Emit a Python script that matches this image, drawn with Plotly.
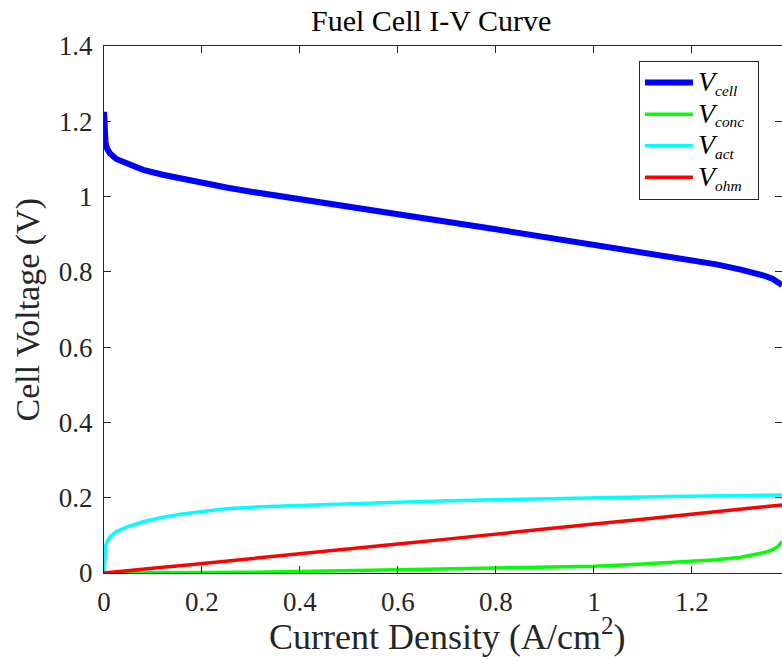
import plotly.graph_objects as go

# Current density (A/cm^2)
current_density = [0, 0.001, 0.003, 0.006, 0.012, 0.025, 0.05, 0.08, 0.12, 0.16, 0.2, 0.25,
                   0.3, 0.4, 0.5, 0.6, 0.7, 0.8, 0.9, 1.0, 1.1, 1.15, 1.2, 1.25, 1.3, 1.33, 1.35,
                   1.365, 1.375, 1.384]

v_cell = [1.225, 1.17, 1.145, 1.128, 1.115, 1.100, 1.085, 1.071, 1.058, 1.047, 1.037, 1.024,
          1.013, 0.992, 0.973, 0.953, 0.933, 0.913, 0.893, 0.873, 0.853, 0.843, 0.832, 0.820,
          0.806, 0.797, 0.789, 0.781, 0.774, 0.765]

v_conc = [0, 0, 0, 0, 0, 0, 0, 0.0003, 0.0006, 0.0008, 0.001, 0.0015,
          0.002, 0.004, 0.006, 0.008, 0.010, 0.012, 0.015, 0.018, 0.024, 0.027, 0.030, 0.035,
          0.042, 0.049, 0.055, 0.062, 0.070, 0.083]

v_act = [0.0, 0.05, 0.07, 0.083, 0.096, 0.110, 0.124, 0.136, 0.148, 0.157, 0.164, 0.171,
         0.175, 0.180, 0.184, 0.188, 0.192, 0.195, 0.198, 0.200, 0.202, 0.203, 0.204, 0.205,
         0.206, 0.206, 0.207, 0.207, 0.207, 0.207]

v_ohm = [0, 0.0001, 0.0004, 0.0007, 0.0015, 0.003, 0.006, 0.010, 0.015, 0.020, 0.025, 0.031,
         0.038, 0.051, 0.064, 0.077, 0.090, 0.104, 0.117, 0.130, 0.143, 0.150, 0.157, 0.163,
         0.170, 0.174, 0.176, 0.178, 0.180, 0.181]

x_ticks = [0, 0.2, 0.4, 0.6, 0.8, 1.0, 1.2]
x_tick_labels = ["0", "0.2", "0.4", "0.6", "0.8", "1", "1.2"]
y_ticks = [0, 0.2, 0.4, 0.6, 0.8, 1.0, 1.2, 1.4]
y_tick_labels = ["0", "0.2", "0.4", "0.6", "0.8", "1", "1.2", "1.4"]

series_names = ["cell", "conc", "act", "ohm"]

FONT = "Liberation Serif"
AX = "#262626"


def legend_label(sub):
    return ("<span style='font-size:28px'><i>V</i></span><sub><i>" + sub + "</i></sub>"
            + "&nbsp;" * (5 - len(sub)))


fig = go.Figure()
fig.add_trace(go.Scatter(x=current_density, y=v_cell, mode="lines",
                         line=dict(color="#0000ff", width=6),
                         name=legend_label(series_names[0])))
fig.add_trace(go.Scatter(x=current_density, y=v_conc, mode="lines",
                         line=dict(color="#00ff00", width=3.5),
                         name=legend_label(series_names[1])))
fig.add_trace(go.Scatter(x=current_density, y=v_act, mode="lines",
                         line=dict(color="#00ffff", width=3.5),
                         name=legend_label(series_names[2])))
fig.add_trace(go.Scatter(x=current_density, y=v_ohm, mode="lines",
                         line=dict(color="#ff0000", width=3.5),
                         name=legend_label(series_names[3])))

axis_common = dict(showline=True, linecolor=AX, linewidth=1, mirror="ticks",
                   ticks="inside", ticklen=7, tickcolor=AX, tickwidth=1,
                   showgrid=False, zeroline=False,
                   tickfont=dict(family=FONT, size=27, color=AX))

fig.update_layout(
    width=782, height=660,
    margin=dict(l=104, r=0, t=46, b=87),
    paper_bgcolor="white", plot_bgcolor="white",
    font=dict(family=FONT),
    showlegend=True,
    legend=dict(x=0.789, y=0.972, xanchor="left", yanchor="top",
                bgcolor="white", bordercolor=AX, borderwidth=1,
                font=dict(family=FONT, size=22, color="black"),
                tracegroupgap=0, itemwidth=48),
    xaxis=dict(range=[0, 1.384], tickvals=x_ticks, ticktext=x_tick_labels,
               ticklabelstandoff=5, **axis_common),
    yaxis=dict(range=[0, 1.4], tickvals=y_ticks, ticktext=y_tick_labels,
               ticklabelstandoff=5, **axis_common),
    annotations=[
        dict(text="Fuel Cell I-V Curve", xref="paper", yref="paper",
             x=(431 - 104) / 678, y=1 + (46 - 20) / 527, xanchor="center", yanchor="middle",
             showarrow=False, font=dict(family=FONT, size=30, color="black")),
        dict(text="Current Density (A/cm<sup>2</sup>)", xref="paper", yref="paper",
             x=(447.5 - 104) / 678, y=-(634 - 573) / 527, xanchor="center", yanchor="middle",
             showarrow=False, font=dict(family=FONT, size=36, color=AX)),
        dict(text="Cell Voltage (V)", xref="paper", yref="paper",
             x=-(104 - 27) / 678, y=0.5, xanchor="center", yanchor="middle", textangle=-90,
             showarrow=False, font=dict(family=FONT, size=34, color=AX)),
    ],
)

fig.write_html("out.html")
